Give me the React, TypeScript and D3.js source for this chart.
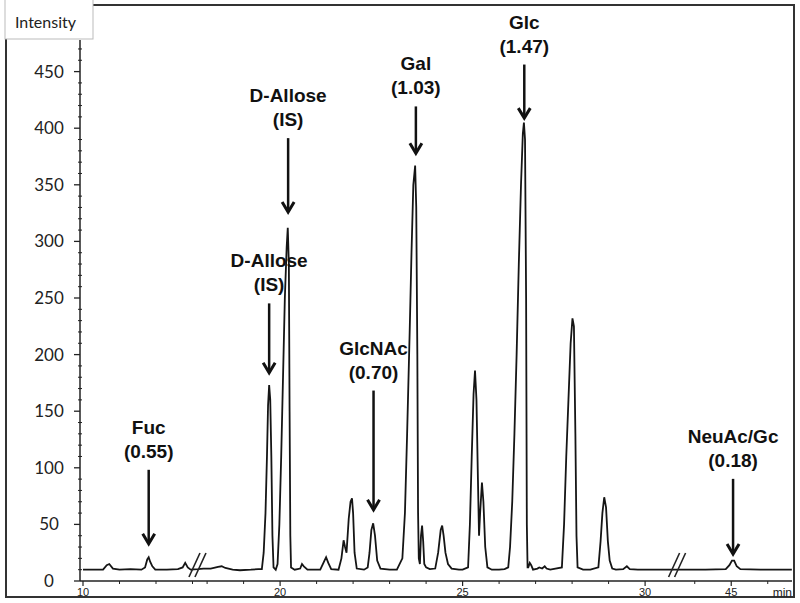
import * as d3 from "d3";
import React from "react";

// chromatogram trace: retention time (min), intensity
const traceTime = [
  10.0, 10.55, 10.65, 10.72, 10.82, 11.0, 11.3, 11.6, 11.7, 11.76, 11.8, 11.84, 11.9, 11.98, 12.3, 12.6, 12.73, 12.8, 12.87, 12.95, 13.15,
  17.75, 17.9, 18.1, 18.3, 18.4, 18.5, 18.7, 18.9, 19.2, 19.4,
  19.5, 19.55, 19.6, 19.64, 19.67, 19.7, 19.73, 19.76, 19.79, 19.82, 19.88,
  19.93, 19.98, 20.03, 20.08, 20.13, 20.18, 20.21, 20.24, 20.26, 20.28, 20.3, 20.4,
  20.55, 20.6, 20.65, 20.75, 21.1, 21.2, 21.26, 21.32, 21.4, 21.6,
  21.68, 21.74, 21.78, 21.82, 21.88, 21.93, 21.97, 22.0, 22.04, 22.1, 22.3, 22.4,
  22.45, 22.5, 22.55, 22.6, 22.66, 22.75, 23.0, 23.2,
  23.35, 23.42, 23.48, 23.55, 23.6, 23.65, 23.7, 23.73, 23.76, 23.78, 23.8, 23.83,
  23.86, 23.89, 23.92, 23.95, 24.0, 24.1, 24.25,
  24.33, 24.4, 24.44, 24.48, 24.53, 24.6, 24.7, 24.9, 25.0,
  25.15, 25.2, 25.25, 25.3, 25.34, 25.38, 25.42, 25.45, 25.48, 25.53, 25.57, 25.62, 25.68, 25.8, 26.0, 26.15,
  26.25, 26.3, 26.36, 26.42, 26.48, 26.54, 26.6, 26.65, 26.68, 26.71, 26.74, 26.76, 26.78,
  26.8, 26.84, 26.88, 26.93, 27.05, 27.1, 27.18, 27.25, 27.3, 27.4,
  27.72, 27.78, 27.84, 27.9, 27.96, 28.01, 28.05, 28.09, 28.12, 28.15, 28.3, 28.5,
  28.72, 28.78, 28.83, 28.88, 28.93, 28.98, 29.03, 29.1, 29.2, 29.4, 29.5, 29.58, 29.8, 30.2, 30.89,
  43.53, 44.3, 44.85, 44.95, 45.02, 45.08, 45.15, 45.25, 45.8, 46.66,
];
const traceIntensity = [
  10, 10, 14, 15, 11, 10, 10.5, 10, 12, 19, 21, 17, 13, 10, 10, 10.5, 12, 16, 12, 10, 10.5,
  10.5, 11, 11, 12.5, 13, 11.5, 10, 9.5, 10, 10.5,
  10.5, 25, 60, 110, 155, 173, 160, 110, 40, 12, 10,
  15, 50, 110, 180, 250, 295, 312, 280, 150, 40, 12, 10,
  11, 15, 13, 10, 10, 17, 21, 16, 10.5, 10,
  20, 36, 30, 25, 55, 70, 73, 60, 25, 11, 10, 12,
  25, 45, 51, 40, 18, 11, 10, 10,
  20, 60, 130, 220, 290, 350, 367, 330, 200, 60, 20, 15,
  40, 49, 35, 15, 12, 10.5, 11,
  25, 45, 49, 40, 25, 15, 11, 10, 10,
  12, 50, 110, 165, 186, 160, 90, 40, 60, 87, 70, 30, 12, 10, 10, 10.5,
  12, 30, 70, 130, 200, 280, 350, 395, 405, 390, 250, 50, 12,
  12, 16, 14, 10, 11, 12, 11, 13, 11, 10,
  12, 50, 110, 160, 210, 232, 225, 130, 40, 12, 10, 10,
  12, 35, 60, 74, 65, 35, 18, 11, 10, 10.5, 13, 10.5, 10, 10, 10,
  10, 10, 10.5, 14, 18, 18, 13, 10.5, 10, 10,
];

// axis breaks: segments of the time axis that are shown
const segStart = [10, 17.75, 43.53];
const segEnd = [13.15, 30.89, 46.66];
const xTickLabels = [10, 20, 25, 30, 45];
const xMinorTicks = [11, 12, 13, 18, 19, 21, 22, 23, 24, 26, 27, 28, 29, 44, 46];
const yTicks = [0, 50, 100, 150, 200, 250, 300, 350, 400, 450];

// annotations: label, ratio, time of arrow, arrow top/bottom intensity
const annLabels = ["Fuc", "D-Allose", "D-Allose", "GlcNAc", "Gal", "Glc", "NeuAc/Gc"];
const annRatios = ["(0.55)", "(IS)", "(IS)", "(0.70)", "(1.03)", "(1.47)", "(0.18)"];
const annTimes = [11.8, 19.7, 20.22, 22.56, 23.72, 26.69, 45.05];
const annTop = [100, 247, 393, 170, 421, 458, 92];
const annTip = [32, 183, 325, 62, 377, 408, 23];

const W = 800;
const H = 603;
const left = 80;
const right = 792;
const bottom = 581;
const pxPerMin = 36.5;

export default function App() {
  // piecewise linear x scale with two breaks
  const dom: number[] = [];
  const rng: number[] = [];
  let cur = left + 3;
  segStart.forEach((s, i) => {
    dom.push(s, segEnd[i]);
    rng.push(cur, cur + (segEnd[i] - s) * pxPerMin);
    cur = cur + (segEnd[i] - s) * pxPerMin;
  });
  const x = d3.scaleLinear().domain(dom).range(rng);
  const y = d3.scaleLinear().domain([0, 50]).range([bottom, bottom - 56.6]);

  const pts = traceTime.map((t, i) => [t, traceIntensity[i]] as [number, number]);
  const line = d3.line<[number, number]>().x(d => x(d[0])).y(d => y(d[1]));

  const yMinor = d3.range(10, 480, 10).filter(v => v % 50 !== 0);
  const breaks = [x(segEnd[0]), x(segEnd[1])];
  const bold = "'Liberation Sans', Arial, sans-serif";

  return (
    <svg width={W} height={H} style={{ position: "absolute", left: 0, top: 0, background: "#fff" }}>
      <rect x={6} y={5} width={788} height={592} fill="none" stroke="#333" strokeWidth={2} />
      <rect x={5} y={-1} width={88} height={40} fill="#fff" stroke="#bbb" strokeWidth={1} />
      <text x={15} y={28} fontFamily="Lato, sans-serif" fontSize={16} fill="#222">Intensity</text>

      {/* y axis */}
      <line x1={left} x2={left} y1={y(478)} y2={bottom} stroke="#222" strokeWidth={1.5} />
      {yTicks.map(v => (
        <g key={v}>
          <line x1={left - 6} x2={left} y1={y(v)} y2={y(v)} stroke="#222" strokeWidth={1.3} />
          <text x={49} y={y(v)} dy="0.35em" textAnchor="middle" fontFamily="Lato, sans-serif" fontSize={17} fill="#222">{v}</text>
        </g>
      ))}
      {yMinor.map(v => (
        <line key={v} x1={left - 2} x2={left + 2} y1={y(v)} y2={y(v)} stroke="#222" strokeWidth={1} />
      ))}

      {/* x axis */}
      <line x1={left} x2={right} y1={bottom} y2={bottom} stroke="#222" strokeWidth={1.5} />
      {xMinorTicks.map(v => (
        <line key={v} x1={x(v)} x2={x(v)} y1={bottom} y2={bottom + 3} stroke="#222" strokeWidth={1} />
      ))}
      {xTickLabels.map(v => (
        <g key={v}>
          <line x1={x(v)} x2={x(v)} y1={bottom} y2={bottom + 5} stroke="#222" strokeWidth={1.2} />
          <text x={x(v)} y={bottom + 15} textAnchor="middle" fontFamily={bold} fontSize={11} fill="#222">{v}</text>
        </g>
      ))}
      <text x={right} y={bottom + 16} textAnchor="end" fontFamily={bold} fontSize={12} fill="#222">min</text>

      {/* trace */}
      <path d={line(pts) ?? ""} fill="none" stroke="#151515" strokeWidth={1.8} strokeLinejoin="miter" />

      {/* break marks */}
      {breaks.map((bx, i) => (
        <g key={i} stroke="#222" strokeWidth={1.6}>
          <line x1={bx - 9} x2={bx + 2} y1={bottom - 4} y2={bottom - 28} />
          <line x1={bx - 3} x2={bx + 8} y1={bottom - 4} y2={bottom - 28} />
        </g>
      ))}

      {/* annotations */}
      {annLabels.map((lab, i) => {
        const ax = x(annTimes[i]);
        const yTop = y(annTop[i]);
        const yTip = y(annTip[i]);
        return (
          <g key={i}>
            <text x={ax} y={yTop - 34} textAnchor="middle" fontFamily={bold} fontWeight="bold" fontSize={19} fill="#111">{lab}</text>
            <text x={ax} y={yTop - 10} textAnchor="middle" fontFamily={bold} fontWeight="bold" fontSize={19} fill="#111">{annRatios[i]}</text>
            <line x1={ax} x2={ax} y1={yTop + 2} y2={yTip - 1} stroke="#111" strokeWidth={2.5} />
            <polyline points={`${ax - 6},${yTip - 11} ${ax},${yTip - 1} ${ax + 6},${yTip - 11}`} fill="none" stroke="#111" strokeWidth={3} />
          </g>
        );
      })}
    </svg>
  );
}
